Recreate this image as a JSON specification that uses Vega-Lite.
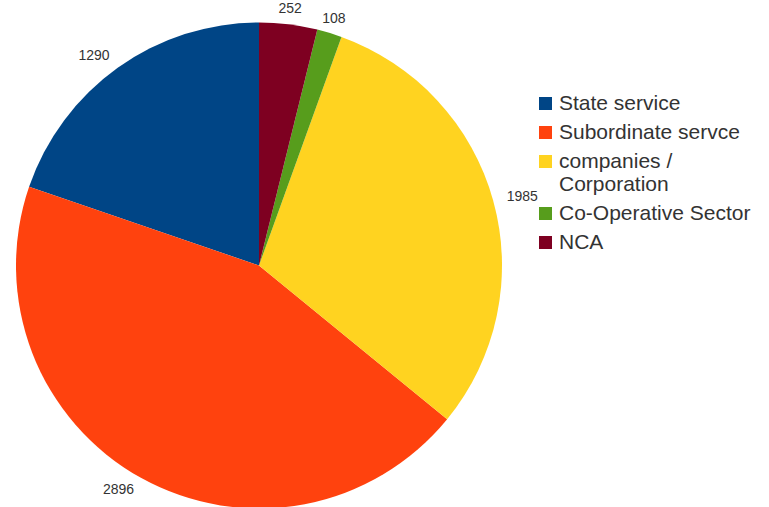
{
  "$schema": "https://vega.github.io/schema/vega-lite/v6.json",
  "width": 518,
  "height": 495,
  "autosize": "none",
  "padding": {"top": 18, "left": 0, "right": 251, "bottom": 0},
  "background": "white",
  "config": {"view": {"stroke": null}, "font": "Liberation Sans"},
  "data": {"values": [
    {"category": "State service", "value": 1290, "rank": 1, "side": "left"},
    {"category": "Subordinate servce", "value": 2896, "rank": 2, "side": "left"},
    {"category": "companies / Corporation", "value": 1985, "rank": 3, "side": "right"},
    {"category": "Co-Operative Sector", "value": 108, "rank": 4, "side": "top"},
    {"category": "NCA", "value": 252, "rank": 5, "side": "top"}
  ]},
  "transform": [
    {"stack": "value", "groupby": [], "sort": [{"field": "rank", "order": "descending"}], "as": ["v0", "v1"]},
    {"calculate": "(datum.v0 + datum.v1) / 2", "as": "mid"}
  ],
  "layer": [
    {
      "mark": {"type": "arc", "outerRadius": 243},
      "encoding": {
        "theta": {"field": "v0", "type": "quantitative", "scale": {"domain": [0, 6531]}},
        "theta2": {"field": "v1"},
        "color": {
          "field": "category", "type": "nominal",
          "scale": {
            "domain": ["State service", "Subordinate servce", "companies / Corporation", "Co-Operative Sector", "NCA"],
            "range": ["#004586", "#ff420e", "#ffd320", "#579d1c", "#7e0021"]
          },
          "legend": {
            "title": null,
            "orient": "none",
            "legendX": 535,
            "legendY": 75,
            "symbolType": "square",
            "symbolSize": 169,
            "symbolStrokeWidth": 0,
            "labelFontSize": 21,
            "labelColor": "#333333",
            "labelFont": "Liberation Sans",
            "labelOffset": 3,
            "rowPadding": 7,
            "labelLimit": 300,
            "labelExpr": "datum.label == 'companies / Corporation' ? ['companies /', 'Corporation'] : datum.label"
          }
        }
      }
    },
    {
      "transform": [{"filter": "datum.side == 'top'"}],
      "mark": {"type": "text", "radius": 258, "fontSize": 14, "color": "#333333", "font": "Liberation Sans", "align": "center"},
      "encoding": {
        "theta": {"field": "mid", "type": "quantitative"},
        "text": {"field": "value", "type": "quantitative"}
      }
    },
    {
      "transform": [{"filter": "datum.side == 'right'"}],
      "mark": {"type": "text", "radius": 257, "fontSize": 14, "color": "#333333", "font": "Liberation Sans", "align": "left"},
      "encoding": {
        "theta": {"field": "mid", "type": "quantitative"},
        "text": {"field": "value", "type": "quantitative"}
      }
    },
    {
      "transform": [{"filter": "datum.side == 'left'"}],
      "mark": {"type": "text", "radius": 257, "fontSize": 14, "color": "#333333", "font": "Liberation Sans", "align": "right"},
      "encoding": {
        "theta": {"field": "mid", "type": "quantitative"},
        "text": {"field": "value", "type": "quantitative"}
      }
    }
  ]
}
